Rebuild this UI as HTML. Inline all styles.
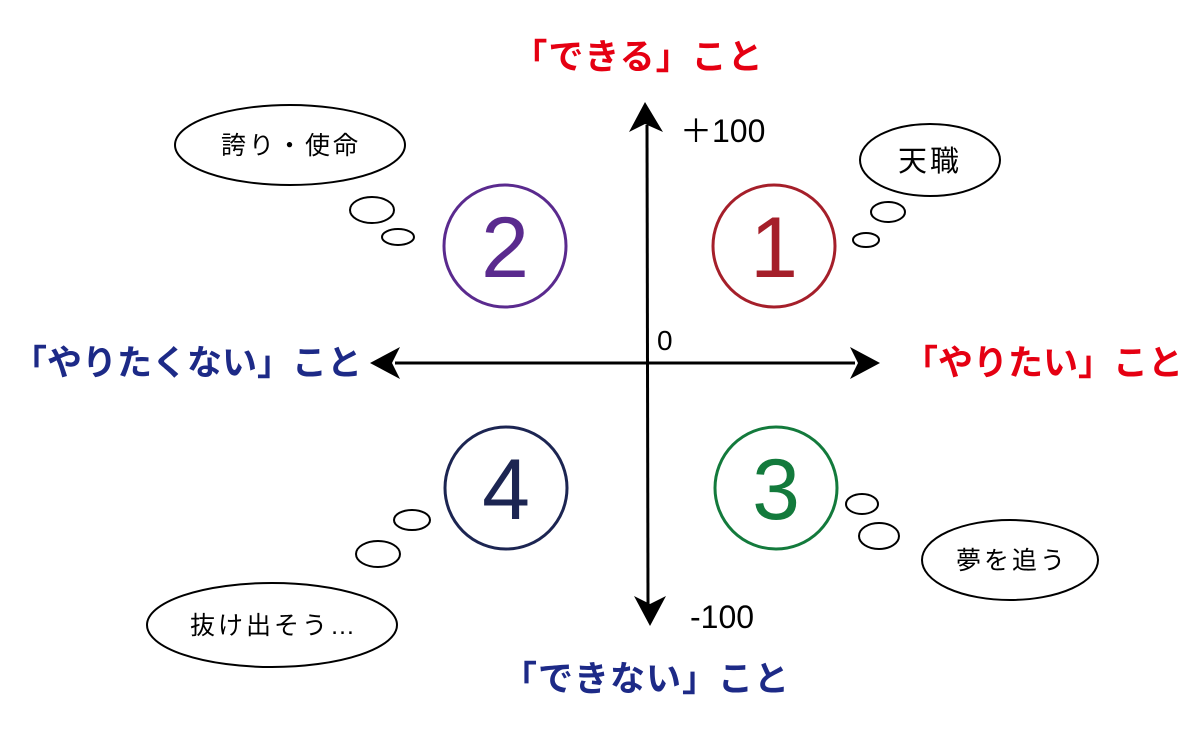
<!DOCTYPE html>
<html><head><meta charset="utf-8"><style>
body{margin:0;background:#fff;width:1200px;height:735px;overflow:hidden}
svg text{font-family:"Liberation Sans","Noto Sans CJK JP",sans-serif}
.b{font-weight:bold;font-size:35px}
</style></head><body>
<svg width="1200" height="735" viewBox="0 0 1200 735">
<g stroke="#000" stroke-width="3" fill="none">
<line x1="647" y1="125" x2="648" y2="605"/>
<line x1="395" y1="363" x2="855" y2="363"/>
</g>
<g fill="#000">
<polygon points="645,102 629,132 645,124 663,132"/>
<polygon points="650,626 634,596 650,604 666,596"/>
<polygon points="370,363 400,347 392,363 400,379"/>
<polygon points="880,363 850,347 858,363 850,379"/>
</g>
<g fill="none" stroke-width="3">
<circle cx="505" cy="246" r="61" stroke="#5a2a8e"/>
<circle cx="774" cy="246" r="61" stroke="#a51f2a"/>
<circle cx="506" cy="488" r="61" stroke="#1c2552"/>
<circle cx="776" cy="488" r="61" stroke="#137a3c"/>
</g>
<g font-size="86" text-anchor="middle" style="font-family:'DejaVu Sans',sans-serif">
<text x="505" y="277" fill="#5a2a8e">2</text>
<text x="774" y="277" fill="#a51f2a">1</text>
<text x="506" y="519" fill="#1c2552">4</text>
<text x="776" y="519" fill="#137a3c">3</text>
</g>
<g fill="#fff" stroke="#000" stroke-width="2">
<ellipse cx="290" cy="145" rx="115" ry="40"/>
<ellipse cx="930" cy="160" rx="70" ry="36"/>
<ellipse cx="1010" cy="560" rx="88" ry="40"/>
<ellipse cx="272" cy="625" rx="125" ry="42"/>
<ellipse cx="372" cy="210" rx="22" ry="13"/>
<ellipse cx="398" cy="237" rx="16" ry="8"/>
<ellipse cx="888" cy="212" rx="17" ry="10"/>
<ellipse cx="866" cy="240" rx="13" ry="7"/>
<ellipse cx="862" cy="504" rx="16" ry="10"/>
<ellipse cx="879" cy="536" rx="20" ry="13"/>
<ellipse cx="412" cy="520" rx="18" ry="10"/>
<ellipse cx="378" cy="554" rx="22" ry="13"/>
</g>
<g font-size="25" fill="#000" text-anchor="middle" letter-spacing="3">
<text x="291" y="154">誇り・使命</text>
<text x="930" y="171" font-size="29">天職</text>
<text x="1012" y="569">夢を追う</text>
<text x="274" y="634">抜け出そう…</text>
</g>
<g font-size="32" fill="#000">
<text x="680" y="142">＋100</text>
<text x="690" y="628">-100</text>
<text x="657" y="350" font-size="28">0</text>
</g>
<text class="b" x="638" y="69" fill="#e50012" text-anchor="middle" letter-spacing="1">「できる」こと</text>
<text class="b" x="646" y="691" fill="#1d2a87" text-anchor="middle" letter-spacing="1">「できない」こと</text>
<text class="b" x="187" y="375" fill="#1d2a87" text-anchor="middle" font-size="34">「やりたくない」こと</text>
<text class="b" x="1043" y="375" fill="#e50012" text-anchor="middle" font-size="34">「やりたい」こと</text>
</svg>
</body></html>
